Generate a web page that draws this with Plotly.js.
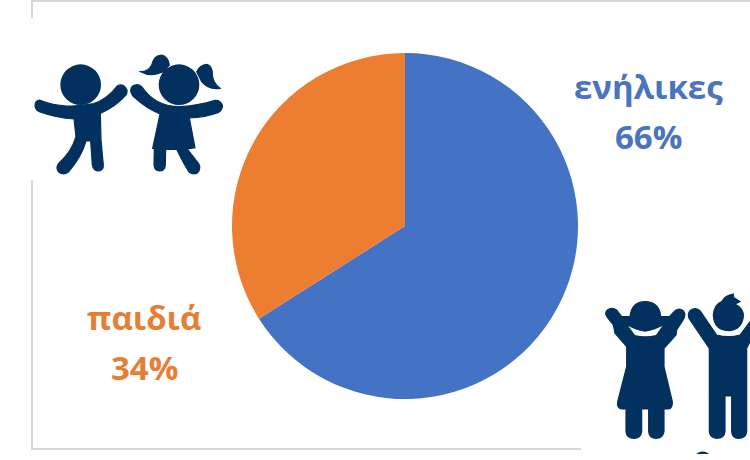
<!DOCTYPE html>
<html><head><meta charset="utf-8">
<script src="https://cdn.plot.ly/plotly-3.0.1.min.js"></script>
<style>html,body{margin:0;padding:0;background:#fff;overflow:hidden}</style>
</head><body><div id="chart" style="width:750px;height:460px"></div>
<script>
const categories = ['ενήλικες', 'παιδιά'];
const shareValues = [66, 34];
const sliceColors = ['#4472C4', '#ED7D31'];
const labelColors = ['#4a74bd', '#e67f36'];
const W = 750, H = 460, navy = '#02315f';

// icon outlines are traced in zoomed pixels: (ox + x/3, oy + y/3)
function outline(d, ox, oy) {
  let isX = true;
  return d.replace(/-?\d+(\.\d+)?/g, n => {
    const v = parseFloat(n) / 3;
    const out = isX ? (ox + v) / W : 1 - (oy + v) / H;
    isX = !isX;
    return out.toFixed(5);
  });
}
function deco(d, ox, oy, col) {
  return {type: 'path', xref: 'paper', yref: 'paper', path: outline(d, ox, oy),
          fillcolor: col || navy, line: col ? {width: 0} : {width: 1.2, color: navy}, layer: 'above'};
}
function disc(cx, cy, r, ox, oy) {
  return {type: 'circle', xref: 'paper', yref: 'paper', fillcolor: navy, line: {width: 0},
    x0: (ox + (cx - r) / 3) / W, x1: (ox + (cx + r) / 3) / W,
    y0: 1 - (oy + (cy + r) / 3) / H, y1: 1 - (oy + (cy - r) / 3) / H, layer: 'above'};
}
function rule(x0, y0, x1, y1) {
  return {type: 'rect', xref: 'paper', yref: 'paper', fillcolor: '#d8d8d8', line: {width: 0},
    x0: x0 / W, x1: x1 / W, y0: 1 - y1 / H, y1: 1 - y0 / H, layer: 'below'};
}
const shapes = [
  rule(31, 0, 750, 2), rule(31, 0, 33, 18), rule(31, 180, 33, 450), rule(31, 448, 581, 450),
  // boy, top left
  disc(242, 254, 61, 0, 0),
  deco('M 118 300 Q 104 303 105 318 Q 107 332 120 336 Q 170 354 222 357 L 228 410 Q 215 455 176 490 Q 166 505 176 516 Q 190 527 205 516 Q 245 470 258 423 L 272 423 L 277 495 Q 281 513 295 513 Q 311 511 310 495 L 303 420 L 301 340 Q 345 322 379 284 Q 386 268 371 257 Q 358 251 349 261 Q 320 298 280 311 Q 240 320 200 318 Q 160 316 118 300 Z', 0, 0),
  // girl, top left
  disc(537, 254, 61, 0, 0),
  deco('M 485 165 Q 505 170 508 195 L 490 215 L 470 222 Q 445 228 422 215 Q 445 215 455 195 Q 462 165 485 165 Z', 0, 0),
  deco('M 590 215 Q 600 195 620 193 Q 638 197 637 225 Q 640 250 660 265 Q 625 270 605 245 Z', 0, 0),
  deco('M 410 254 Q 394 256 392 270 Q 392 283 404 293 Q 440 326 480 342 L 458 445 L 463 445 L 462 495 Q 464 513 478 513 Q 495 513 496 495 L 497 448 L 530 448 Q 550 490 567 516 Q 580 526 593 518 Q 604 505 596 491 L 562 447 L 585 443 L 568 354 Q 615 352 656 337 Q 669 328 667 315 Q 660 299 645 301 Q 600 316 540 320 Q 500 320 470 303 Q 445 288 426 261 Q 418 254 410 254 Z', 0, 0),
  // girl, bottom right
  deco('M 112 90 Q 125 80 140 90 L 155 110 L 180 110 Q 185 65 225 65 Q 268 65 272 110 L 298 110 L 315 92 Q 328 82 340 92 Q 350 105 338 122 L 320 150 L 318 165 L 282 205 L 282 260 L 307 365 Q 308 385 295 387 L 282 387 L 282 455 Q 278 475 258 475 Q 238 475 236 455 L 236 387 L 215 387 L 215 455 Q 212 475 192 475 Q 170 475 168 455 L 168 387 L 155 387 Q 140 385 143 365 L 170 260 L 170 200 L 135 160 L 130 135 L 112 112 Q 102 100 112 90 Z', 570, 280),
  deco('M 175 138 Q 195 150 225 155 Q 255 150 277 138 L 258 165 Q 225 172 195 165 Z', 570, 280, '#ffffff'),
  // boy, bottom right
  deco('M 430 105 Q 432 75 455 65 Q 465 45 490 42 L 490 52 L 510 65 L 495 72 Q 522 85 520 110 Q 515 150 475 152 Q 432 150 430 105 Z', 570, 280),
  deco('M 360 92 Q 375 80 390 92 L 440 165 Q 475 175 510 165 L 540 125 L 540 185 L 530 205 L 530 455 Q 528 475 505 475 Q 487 475 485 455 L 485 348 L 465 348 L 465 455 Q 463 475 440 475 Q 420 473 418 455 L 418 205 L 360 120 Q 350 105 360 92 Z', 570, 280),
  deco('M 385 520 Q 398 512 411 520 Z', 570, 280)
];
const labelSpots = [[648, 86, 136], [144, 317, 367]];
const annotations = [];
categories.forEach((c, i) => {
  const [x, y1, y2] = labelSpots[i];
  [[c, y1], [shareValues[i] + '%', y2]].forEach(([t, y]) => annotations.push({
    text: t, xref: 'paper', yref: 'paper', x: x / W, y: 1 - y / H,
    xanchor: 'center', yanchor: 'middle', showarrow: false,
    font: {family: 'Open Sans', size: 33, color: labelColors[i], weight: 700}
  }));
});
Plotly.newPlot('chart', [{
  type: 'pie', labels: categories, values: shareValues, sort: false, direction: 'clockwise', rotation: 0,
  marker: {colors: sliceColors, line: {width: 0}}, textinfo: 'none', hoverinfo: 'label+percent',
  domain: {x: [232 / W, 578 / W], y: [1 - 399 / H, 1 - 53 / H]}
}], {
  width: W, height: H, margin: {l: 0, r: 0, t: 0, b: 0}, showlegend: false,
  paper_bgcolor: '#ffffff', shapes, annotations
}, {displayModeBar: false});
</script></body></html>
